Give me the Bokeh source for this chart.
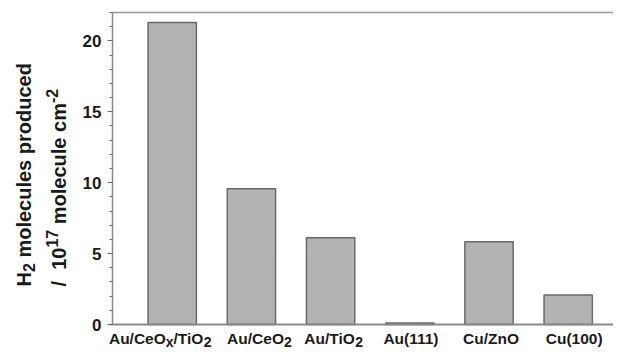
import math
from bokeh.plotting import figure
from bokeh.models import Range1d, FixedTicker, Label, LinearAxis
from bokeh.embed import file_html
from bokeh.resources import INLINE

# ---- data ----
# tick labels, split into (text, role) pieces: role "" = normal, "sub" = subscript, "sup" = superscript
label_parts = [
    [("Au/CeO", ""), ("x", "sub"), ("/TiO", ""), ("2", "sub")],
    [("Au/CeO", ""), ("2", "sub")],
    [("Au/TiO", ""), ("2", "sub")],
    [("Au(111)", "")],
    [("Cu/ZnO", "")],
    [("Cu(100)", "")],
]
h2_produced = [21.3, 9.57, 6.11, 0.1, 5.83, 2.08]
y_ticks = [0, 5, 10, 15, 20]
ylabel_line1 = [("H", ""), ("2", "sub"), (" molecules produced", "")]
ylabel_line2 = [("/", ""), ("  10", ""), ("17", "sup"), (" molecule cm", ""), ("-2", "sup")]

xs = list(range(len(h2_produced)))

# ---- layout (pixels) ----
W, H = 613, 350
AXIS_X, TOP_Y, AXIS_Y = 112, 12, 324      # plot area: left edge, top edge, bottom (axis) in canvas px
X0, Y0, Y1 = -0.754, 0.0, 22.0
PX_PER_CAT = 79.2
px_x = 1.0 / PX_PER_CAT                     # data units per pixel (x)
px_y = (Y1 - Y0) / (AXIS_Y - TOP_Y)         # data units per pixel (y)
X1 = X0 + (W - AXIS_X) * px_x
label_dx = [-12, 8, 3, 2, 2, 6]             # small horizontal nudges of the category labels (px)

FONT = "Liberation Sans"
TXT = "#1a1a1a"
AXC = "#8a8a8a"

# Arial/Liberation Sans Bold advance widths (1/1000 em)
AW = {"A": 722, "u": 611, "/": 278, "C": 722, "e": 556, "O": 778, "x": 556, "T": 611,
      "i": 278, "2": 556, "(": 333, "1": 556, ")": 333, "Z": 611, "n": 611, "0": 556,
      " ": 278, "H": 722, "m": 889, "o": 611, "l": 278, "c": 556, "s": 556, "p": 611,
      "r": 389, "d": 611, "7": 556, "-": 333}

def tw(s, size):
    return sum(AW.get(ch, 556) for ch in s) / 1000.0 * size

p = figure(width=W, height=H, output_backend="svg", toolbar_location=None,
           x_range=Range1d(X0 - AXIS_X * px_x, X1),
           y_range=Range1d(Y0 - (H - AXIS_Y) * px_y, Y1 + TOP_Y * px_y),
           x_axis_location=None, y_axis_location=None,
           min_border_left=0, min_border_right=0, min_border_top=0, min_border_bottom=0)

p.vbar(x=xs, top=h2_produced, width=0.61, bottom=0,
       fill_color="#b3b3b3", line_color="#6a6a6a", line_width=1.5)

p.outline_line_color = None
p.grid.grid_line_color = None
p.background_fill_color = "white"
p.border_fill_color = "white"

# bottom axis (line only; labels drawn below as rich text pieces)
xaxis = LinearAxis(fixed_location=Y0, bounds=(X0 - 2 * px_x, X1), ticker=FixedTicker(ticks=[]),
                   axis_line_color=AXC, axis_line_width=2,
                   major_tick_line_color=None, minor_tick_line_color=None)
p.add_layout(xaxis, "below")

# top frame line
topaxis = LinearAxis(fixed_location=Y1, bounds=(X0, X1), ticker=FixedTicker(ticks=[]),
                     axis_line_color="#9a9a9a", axis_line_width=1.5,
                     major_tick_line_color=None, minor_tick_line_color=None)
p.add_layout(topaxis, "above")

# y axis
yaxis = LinearAxis(fixed_location=X0, bounds=(Y0, Y1),
                   ticker=FixedTicker(ticks=y_ticks, minor_ticks=list(range(0, 23))),
                   axis_line_color=AXC, axis_line_width=1.5,
                   major_tick_line_color="#6a6a6a", minor_tick_line_color="#6a6a6a",
                   major_tick_in=0, major_tick_out=5, minor_tick_in=0, minor_tick_out=3,
                   major_label_text_font=FONT, major_label_text_font_style="bold",
                   major_label_text_font_size="17px", major_label_text_color=TXT,
                   major_label_standoff=6)
p.add_layout(yaxis, "left")

def add_piece(x, y, text, size, angle=0.0):
    p.add_layout(Label(x=x, y=y, text=text, text_font=FONT, text_font_style="bold",
                       text_font_size=f"{size}px", text_color=TXT, angle=angle,
                       text_align="left", text_baseline="alphabetic"))

# ---- x tick labels with subscripts ----
XM, XS, XSHIFT = 15.5, 14.0, 3.5
base_y = Y0 - 14 * px_y
for x, parts, ndx in zip(xs, label_parts, label_dx):
    total = sum(tw(t, XS if r else XM) for t, r in parts)
    off = -total / 2.0 + ndx
    for t, r in parts:
        size = XS if r else XM
        y = base_y - (XSHIFT * px_y if r == "sub" else 0)
        lead = len(t) - len(t.lstrip(" "))
        add_piece(x + (off + tw(" " * lead, size)) * px_x, y, t.strip(" "), size)
        off += tw(t, size)

# ---- rotated y axis title with sub/superscripts ----
YM, YS = 20.0, 16.0
def rotated_line(parts, base_px, start_px, shift):
    xb = X0 + base_px * px_x          # baseline position relative to the y axis
    pos = Y0 + start_px * px_y
    for t, r in parts:
        size = YS if r else YM
        dx = 0.0
        if r == "sub":
            dx = shift * px_x
        elif r == "sup":
            dx = -shift * px_x
        lead = len(t) - len(t.lstrip(" "))
        add_piece(xb + dx, pos + tw(" " * lead, size) * px_y, t.strip(" "), size, math.pi / 2)
        pos += tw(t, size) * px_y

rotated_line(ylabel_line1, -89, 38, 5)
rotated_line(ylabel_line2, -54, 38, 7)

open("out.html", "w").write(file_html(p, INLINE))
